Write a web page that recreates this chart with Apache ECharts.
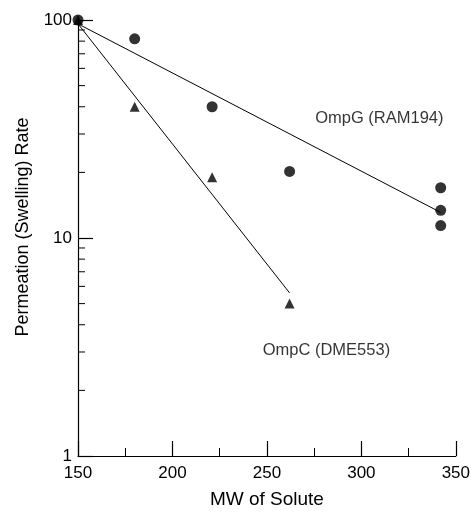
<!DOCTYPE html>
<html>
<head>
<meta charset="utf-8">
<script src="https://cdn.jsdelivr.net/npm/echarts@6/dist/echarts.min.js"></script>
<style>html,body{margin:0;padding:0;background:#fff;overflow:hidden}#c{width:100vw;height:100vh}</style>
</head>
<body>
<div id="c"></div>
<script>
// Data
var ompgMW = [150, 180, 221, 262, 342, 342, 342];
var ompgRate = [100, 82, 40, 20.2, 17, 13.4, 11.4];
var ompcMW = [150, 180, 221, 262];
var ompcRate = [100, 40, 19, 5.0];
var ompgFitMW = [150, 342];
var ompgFitRate = [96, 13.1];
var ompcFitMW = [150, 262];
var ompcFitRate = [96, 5.6];
var xTicks = [150, 200, 250, 300, 350];
var yTicks = [1, 10, 100];
var yMinorTicks = [2, 3, 4, 5, 6, 7, 8, 9, 20, 30, 40, 50, 60, 70, 80, 90];
var labelTexts = ['OmpG (RAM194)', 'OmpC (DME553)'];
var labelMW = [309.5, 281.5];
var labelRate = [35.3, 3.05];

function pairs(xs, ys) { return xs.map(function (x, i) { return [x, ys[i]]; }); }

var FONT = '"Liberation Sans", Arial, sans-serif';
var chart = echarts.init(document.getElementById('c'), null, { renderer: 'canvas' });
chart.setOption({
  animation: false,
  backgroundColor: '#fff',
  grid: { left: 78, right: 16, top: 20, bottom: 52 },
  xAxis: {
    type: 'value', min: xTicks[0], max: xTicks[xTicks.length - 1], interval: 50,
    name: 'MW of Solute', nameLocation: 'middle', nameGap: 34,
    nameTextStyle: { fontFamily: FONT, fontSize: 19, color: '#000' },
    axisLine: { show: true, lineStyle: { color: '#000', width: 1.2 } },
    axisTick: { show: true, inside: true, length: 15, lineStyle: { color: '#000', width: 1.2 } },
    minorTick: { show: true, splitNumber: 2, length: 8, lineStyle: { color: '#000', width: 1 } },
    axisLabel: { fontFamily: FONT, fontSize: 17, color: '#000', margin: 9 },
    splitLine: { show: false }
  },
  yAxis: {
    type: 'log', logBase: 10, min: yTicks[0], max: yTicks[yTicks.length - 1],
    name: 'Permeation (Swelling) Rate', nameLocation: 'middle', nameGap: 46,
    nameTextStyle: { fontFamily: FONT, fontSize: 18, color: '#000', padding: [0, 0, 0, 22] },
    axisLine: { show: true, lineStyle: { color: '#000', width: 1.2 } },
    axisTick: { show: true, inside: true, length: 15, lineStyle: { color: '#000', width: 1.2 } },
    axisLabel: { fontFamily: FONT, fontSize: 17, color: '#000', margin: 6 },
    splitLine: { show: false }
  },
  series: [
    {
      type: 'custom', silent: true, clip: false, z: 1,
      data: yMinorTicks.map(function (v) { return [xTicks[0], v]; }),
      renderItem: function (params, api) {
        var p = api.coord([api.value(0), api.value(1)]);
        return { type: 'line', shape: { x1: p[0], y1: p[1], x2: p[0] + 7, y2: p[1] },
                 style: { stroke: '#000', lineWidth: 1 } };
      }
    },
    {
      type: 'line', data: pairs(ompgFitMW, ompgFitRate), symbol: 'none', z: 2,
      lineStyle: { color: '#000', width: 1 }
    },
    {
      type: 'line', data: pairs(ompcFitMW, ompcFitRate), symbol: 'none', z: 2,
      lineStyle: { color: '#000', width: 1 }
    },
    {
      type: 'scatter', data: pairs(ompgMW, ompgRate), symbol: 'circle', symbolSize: 11, z: 3,
      itemStyle: { color: '#000' }
    },
    {
      type: 'scatter', data: pairs(ompcMW, ompcRate), symbol: 'triangle', symbolSize: 10, z: 3,
      itemStyle: { color: '#000' }
    },
    {
      type: 'scatter', symbolSize: 0, z: 4, silent: true,
      data: labelTexts.map(function (t, i) { return { name: t, value: [labelMW[i], labelRate[i]] }; }),
      label: { show: true, position: 'inside', formatter: '{b}', fontFamily: FONT, fontSize: 16.5, color: '#000' }
    }
  ]
});
</script>
</body>
</html>
